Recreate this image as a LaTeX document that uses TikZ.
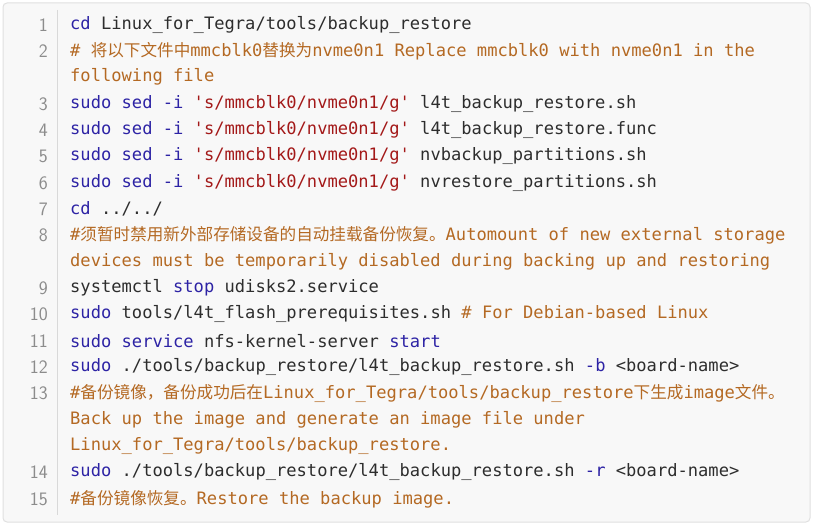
\documentclass[tikz,border=0pt]{standalone}
\usepackage{fontspec}
\setmonofont{DejaVu Sans Mono}
\newfontfamily\cjk{Noto Sans CJK SC}
\definecolor{kw}{RGB}{45,35,165}
\definecolor{str}{RGB}{163,25,25}
\definecolor{cmt}{RGB}{180,105,35}
\definecolor{txt}{RGB}{45,45,45}
\definecolor{num}{RGB}{140,140,140}
\definecolor{bg}{RGB}{248,248,248}
\newcommand{\K}[1]{\textcolor{kw}{#1}}
\newcommand{\Sg}[1]{\textcolor{str}{#1}}
\newcommand{\Cm}[1]{\textcolor{cmt}{#1}}
\newcommand{\Cj}[1]{{\cjk\fontsize{16.6pt}{18pt}\selectfont #1}}
\begin{document}
\begin{tikzpicture}[x=1pt,y=1pt,
  code/.style={anchor=west,inner sep=0pt,font=\ttfamily\fontsize{17.1pt}{20pt}\selectfont,text=txt},
  ln/.style={anchor=east,inner sep=0pt,font=\sffamily\fontsize{19pt}{20pt}\selectfont,text=num}]
\useasboundingbox (0,0) rectangle (813,-527);
\draw[rounded corners=4pt,draw=black!12,fill=bg,line width=1pt] (3,-3) rectangle (810,-522);
\draw[draw=black!15,line width=0.8pt] (57,-10) -- (57,-515);
\foreach \n/\y in {1/25,2/51,3/104,4/130,5/156,6/183,7/209,8/235,9/288,10/314,11/341,12/367,13/393,14/472,15/499}
  \node[ln] (n\n) at (48,-\y) {\n};
\node[code] (l1) at (70,-25) {\K{cd} Linux\_for\_Tegra/tools/backup\_restore};
\node[code] (l2a) at (70,-51) {\Cm{\# \Cj{将以下文件中}mmcblk0\Cj{替换为}nvme0n1 Replace mmcblk0 with nvme0n1 in the}};
\node[code] (l2b) at (70,-77) {\Cm{following file}};
\node[code] (l3) at (70,-104) {\K{sudo} \K{sed} \K{-i} \Sg{'s/mmcblk0/nvme0n1/g'} l4t\_backup\_restore.sh};
\node[code] (l4) at (70,-130) {\K{sudo} \K{sed} \K{-i} \Sg{'s/mmcblk0/nvme0n1/g'} l4t\_backup\_restore.func};
\node[code] (l5) at (70,-156) {\K{sudo} \K{sed} \K{-i} \Sg{'s/mmcblk0/nvme0n1/g'} nvbackup\_partitions.sh};
\node[code] (l6) at (70,-183) {\K{sudo} \K{sed} \K{-i} \Sg{'s/mmcblk0/nvme0n1/g'} nvrestore\_partitions.sh};
\node[code] (l7) at (70,-209) {\K{cd} ../../};
\node[code] (l8a) at (70,-235) {\Cm{\#\Cj{须暂时禁用新外部存储设备的自动挂载备份恢复。}Automount of new external storage}};
\node[code] (l8b) at (70,-262) {\Cm{devices must be temporarily disabled during backing up and restoring}};
\node[code] (l9) at (70,-288) {systemctl \K{stop} udisks2.service};
\node[code] (l10) at (70,-314) {\K{sudo} tools/l4t\_flash\_prerequisites.sh \Cm{\# For Debian-based Linux}};
\node[code] (l11) at (70,-341) {\K{sudo} \K{service} nfs-kernel-server \K{start}};
\node[code] (l12) at (70,-367) {\K{sudo} ./tools/backup\_restore/l4t\_backup\_restore.sh \K{-b} <board-name>};
\node[code] (l13a) at (70,-393) {\Cm{\#\Cj{备份镜像，备份成功后在}Linux\_for\_Tegra/tools/backup\_restore\Cj{下生成}image\Cj{文件。}}};
\node[code] (l13b) at (70,-420) {\Cm{Back up the image and generate an image file under}};
\node[code] (l13c) at (70,-446) {\Cm{Linux\_for\_Tegra/tools/backup\_restore.}};
\node[code] (l14) at (70,-472) {\K{sudo} ./tools/backup\_restore/l4t\_backup\_restore.sh \K{-r} <board-name>};
\node[code] (l15) at (70,-499) {\Cm{\#\Cj{备份镜像恢复。}Restore the backup image.}};
\end{tikzpicture}
\end{document}
